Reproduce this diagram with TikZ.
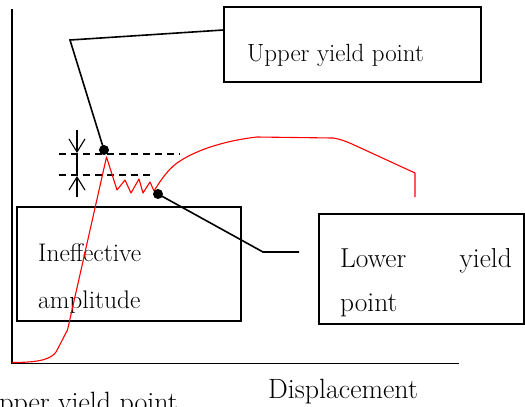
\documentclass[tikz,border=0pt]{standalone}
\usetikzlibrary{arrows.meta}
\begin{document}
\begin{tikzpicture}[x=1bp,y=-1bp,
  box/.style={draw, line width=1.5bp, rectangle, inner sep=0pt},
  lead/.style={line width=1.6bp},
  thinlead/.style={line width=1.1bp},
  dotn/.style={circle, fill, inner sep=0pt, minimum size=10bp},
  curve/.style={red, line width=1.1bp, line join=round},
  guide/.style={line width=1.5bp, dash pattern=on 7bp off 5bp},
  axis/.style={line width=1.7bp},
  txt/.style={inner sep=0pt, anchor=base west},
  barb/.style={-{Straight Barb[length=13bp, width=16bp, line width=1.1bp]}}]
\useasboundingbox (0,0) rectangle (525,406);

% axes
\coordinate (ytop) at (12,9);
\coordinate (O) at (12,363.5);
\coordinate (xend) at (459,363.5);
\draw[axis] (ytop) -- (O) -- (xend);

% boxes
\node[box, minimum width=257bp, minimum height=75bp] (ubox) at (352.5,44.5) {};
\node[txt, font=\fontsize{25}{30}\selectfont] (utext) at (247,61) {Upper yield point};

\node[box, minimum width=224bp, minimum height=114bp] (ibox) at (129,264) {};
\node[txt, font=\fontsize{25.5}{30}\selectfont] (itext1) at (38,261) {Ineffective};
\node[txt, font=\fontsize{25.5}{30}\selectfont] (itext2) at (38,308) {amplitude};

\node[box, minimum width=205bp, minimum height=110bp] (lbox) at (421.5,269) {};
\node[txt, font=\fontsize{27.5}{32}\selectfont] (ltext1) at (340,267) {Lower};
\node[txt, anchor=base east, font=\fontsize{27.5}{32}\selectfont] (ltext2) at (512,267) {yield};
\node[txt, font=\fontsize{27.5}{32}\selectfont] (ltext3) at (340,311) {point};

% axis label
\node[txt, font=\fontsize{28}{32}\selectfont] (xlabel) at (268,398) {Displacement};
\node[txt, anchor=base east, font=\fontsize{28}{32}\selectfont] (cut) at (178,411) {Upper yield point};

% dashed guides and amplitude arrows
\coordinate (g1a) at (59,154);
\coordinate (g1b) at (180,154);
\coordinate (g2a) at (59,175);
\coordinate (g2b) at (152,175);
\draw[guide] (g1a) -- (g1b);
\draw[guide] (g2a) -- (g2b);
\coordinate (a1) at (77,130);
\coordinate (a1t) at (77,153);
\coordinate (a2) at (77,197);
\coordinate (a2t) at (77,176);
\draw[thinlead, barb] (a1) -- (a1t);
\draw[thinlead, barb] (a2) -- (a2t);
\draw[thinlead] (a1t) -- (a2t);

% red curve
\draw[curve] (12,362.5) .. controls (40,362.5) and (51,359) .. (56,352)
  .. controls (60,345) and (63,338) .. (67.5,330) -- (106.5,157)
  -- (117,190) -- (125,180) -- (131,193) -- (139,179) -- (143,193)
  -- (150,182) -- (154,191)
  .. controls (162,178) and (170,167) .. (180,161)
  .. controls (200,148) and (230,140) .. (257,137) -- (333,138)
  .. controls (340,139) and (345,141) .. (352,144) -- (415,173) -- (415,197);

% dots and leaders
\node[dotn] (udot) at (104,150) {};
\node[dotn] (ldot) at (158,194) {};
\coordinate (ubend) at (70,40);
\draw[lead] ([yshift=14.5bp]ubox.west) -- (ubend) -- (udot.center);
\coordinate (lbend) at (263,252);
\coordinate (lend) at (299,252);
\draw[lead] (ldot.center) -- (lbend) -- (lend);
\end{tikzpicture}
\end{document}
